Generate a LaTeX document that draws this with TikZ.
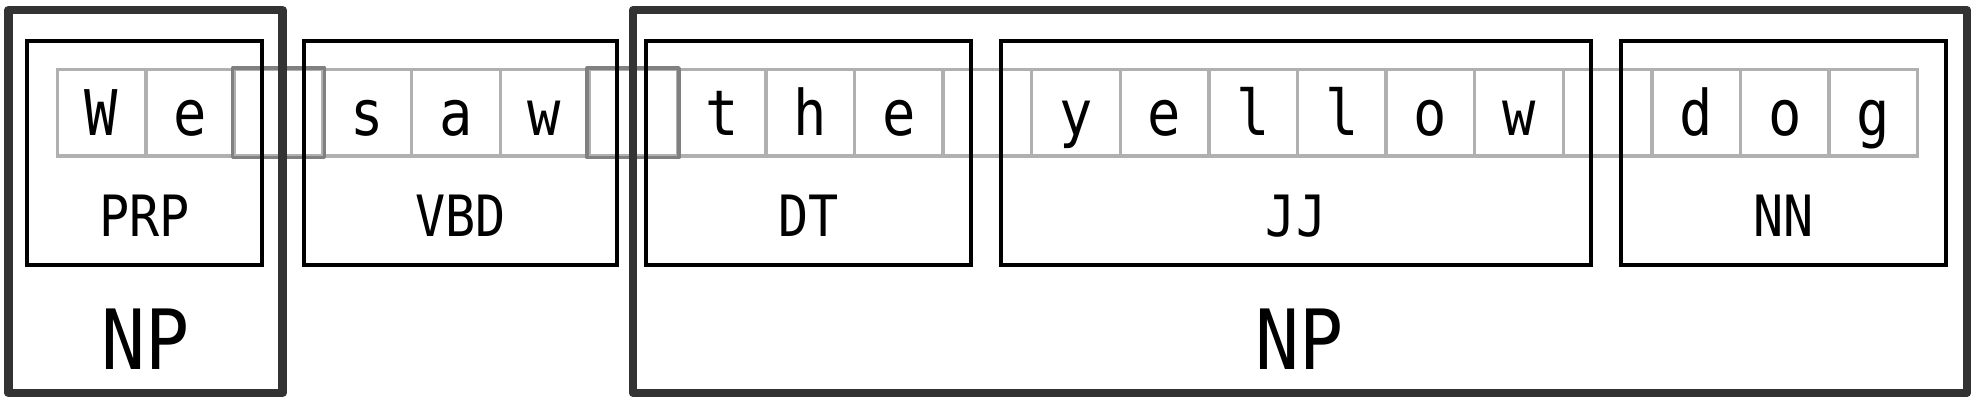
\documentclass[tikz,border=0pt]{standalone}
\usepackage{fontspec}
\setmonofont[FakeStretch=0.88]{DejaVu Sans Mono}
\usetikzlibrary{positioning}

\definecolor{cellgray}{HTML}{B0B0B0}
\definecolor{spacegray}{HTML}{808080}
\definecolor{phrasegray}{HTML}{333333}

\tikzset{
	cell/.style={draw=cellgray, line width=1.35pt, minimum width=35.17pt, minimum height=34.2pt,
		inner sep=0pt, text height=18.2pt, text depth=0pt, font=\ttfamily\fontsize{25}{25}\selectfont},
	spacecell/.style={draw=spacegray, line width=1.35pt, line join=round},
	tagbox/.style={draw=black, line width=1.6pt, minimum height=89pt, inner sep=0pt},
	taglabel/.style={inner sep=0pt, text height=16.5pt, text depth=0pt, font=\ttfamily\fontsize{22.6}{22.6}\selectfont},
	phrasebox/.style={draw=phrasegray, line width=3.3pt, line join=round, minimum height=152pt, inner sep=0pt},
	phraselabel/.style={inner sep=0pt, text height=24pt, text depth=0pt, font=\ttfamily\fontsize{33}{33}\selectfont}
}

\begin{document}
\begin{tikzpicture}[x=0.5pt, y=-0.5pt]
	\useasboundingbox (0,0) rectangle (1568,322);

	% characters of the sentence
	\foreach \ch [count=\i] in {W,e,{},s,a,w,{},t,h,e,{},y,e,l,l,o,w,{},d,o,g}
		\node[cell] (c\i) at ({45.5+70.33*(\i-0.5)}, 89.5) {\ch};
	\draw[spacecell] (c3.north west) rectangle (c3.south east);
	\draw[spacecell] (c7.north west) rectangle (c7.south east);

	% part of speech tags
	\node[tagbox, minimum width=93.5pt] (prp) at (114.8,121.5) {};
	\node[tagbox, minimum width=124.5pt] (vbd) at (365.5,121.5) {};
	\node[tagbox, minimum width=129pt] (dt) at (642,121.5) {};
	\node[tagbox, minimum width=234pt] (jj) at (1029,121.5) {};
	\node[tagbox, minimum width=129pt] (nn) at (1416,121.5) {};

	\node[taglabel] (prp-l) at (prp |- 0,171.5) {PRP};
	\node[taglabel] (vbd-l) at (vbd |- 0,171.5) {VBD};
	\node[taglabel] (dt-l) at (dt |- 0,171.5) {DT};
	\node[taglabel] (jj-l) at (jj |- 0,171.5) {JJ};
	\node[taglabel] (nn-l) at (nn |- 0,171.5) {NN};

	% noun phrases
	\node[phrasebox, minimum width=108.8pt] (np1) at (115.5,160) {};
	\node[phrasebox, minimum width=529.5pt] (np2) at (1032,160) {};

	\node[phraselabel] (np1-l) at (np1 |- 0,269) {NP};
	\node[phraselabel] (np2-l) at (np2 |- 0,269) {NP};
\end{tikzpicture}
\end{document}
